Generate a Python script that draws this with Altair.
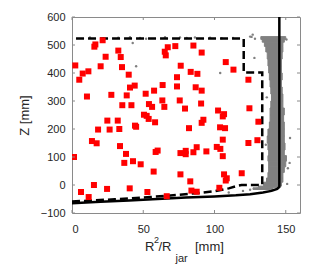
import altair as alt
import pandas as pd

# Red squares (R^2/R_jar, Z)
red_x = [1.4, 2.3, 5.1, 7.5, 6.3, 11.5, 10.5, 11.7, 15.7, 16.4, 21.5, 20.1, 23.6, 15.4, 14.0, 17.3,
         18.3, 24.6, 24.8, 26.4, 27.6, 32.5, 34.2, 35.1, 32.1, 33.2, 35.3, 33.7, 37.9, 36.7, 39.8, 40.7,
         38.4, 41.7, 44.0, 44.2, 45.0, 40.5, 42.8, 48.2, 51.7, 50.5, 52.4, 53.8, 54.0, 56.2, 57.6, 58.3,
         52.9, 57.3, 58.7, 60.1, 63.6, 63.4, 64.8, 65.1, 65.8, 67.2, 72.5, 73.7, 73.7, 76.3, 75.6, 79.3,
         76.1, 79.8, 79.8, 76.1, 66.5, 83.0, 82.1, 83.3, 85.2, 88.0, 86.8, 91.0, 91.0, 90.6, 87.5, 85.2,
         83.8, 87.5, 94.3, 92.2, 91.0, 102.5, 105.8, 106.7, 103.9, 107.4, 105.8, 101.6, 104.1, 105.8, 106.7, 108.6,
         107.9, 103.4, 107.9, 113.3, 119.1, 123.8, 124.5, 123.8, 130.8, 130.1]
red_y = [100, 427, 376, 398, -25, 406, 316, -43, 494, 502, 517, 424, 458, 0, 157, 149,
         198, -14, 230, 198, 322, 480, 457, 421, 230, 200, 285, 139, 111, 79, 394, 348,
         320, 285, 355, 212, 208, -12, 85, 74, 326, 251, 247, 236, 289, 279, 337, 224,
         -25, 48, 118, 123, 357, 302, 279, 476, 463, 492, 496, 385, 352, 426, 302, 273,
         114, 122, 110, 38, -40, 13, 203, 404, 498, 397, 349, 337, 473, 291, 135, 117,
         -20, -24, 120, 233, 222, 266, 245, 253, 206, 203, 162, 136, 129, 103, 38, 24,
         16, -10, 439, 412, 42, 376, 274, 150, 226, 160]

# Dense grey cloud near the wall: bands (Z from, Z to, left edge, right edge)
cloud_y1 = [-16, -10, -4, 10, 25, 45, 65, 85, 105, 125, 150, 175, 200, 225, 250, 275, 300,
            325, 350, 375, 400, 425, 450, 475, 495, 510, 520]
cloud_y2 = [-10, -4, 10, 25, 45, 65, 85, 105, 125, 150, 175, 200, 225, 250, 275, 300, 325,
            350, 375, 400, 425, 450, 475, 495, 510, 520, 530]
cloud_l = [127, 131, 134.5, 136.5, 137.5, 138, 138, 137.5, 138, 137.5, 137, 137.5, 138.5, 139, 139, 139.5, 140,
           139.5, 139, 138.5, 138, 137.5, 137, 136, 135, 133.5, 132.5]
cloud_r = [141, 145, 147, 148, 148, 149, 150, 150.5, 149, 149.5, 149, 149, 149, 148.5, 149, 148, 148,
           147.5, 147, 147.5, 147, 147, 147.5, 148, 148, 149, 150]

# Sparse grey points
grey_x = [12.6, 22, 32.5, 40.7, 47.7, 52, 65.3, 75.8, 80.5, 86.3, 96.9, 105, 113, 126, 128.4,
          42.6, 45, 104, 128, 136.7, 136, 153, 152.7, 151, 125, 126.8, 110, 120, 125, 130, 150.5, 151.5]
grey_y = [527, 524, 526, 528, 525, 522, 528, 527, 525, 527, 526, 524, 525, 529, 522,
          507, 424, 400, 454, 313, 144, 168, 79, 4, 530, 537, -27, -21, -17, -13, 520, 60]

# Solid wall/bottom line
solid_x = [0, 20, 40, 60, 80, 100, 115, 125, 134, 140, 144, 145.5, 145.5]
solid_y = [-65, -60, -55, -50, -45, -41, -37, -33, -27, -21, -14, -7, 600]

# Dashed outline
dash_x = [0, 30, 55, 75, 90, 100, 110, 116, 119, 133.5, 133.5, 120.5, 120.5, 0]
dash_y = [-59, -51, -43, -35, -28, -22, -12, -3, 0, 0, 402, 402, 523, 523]

x_ticks = [0, 50, 100, 150]
y_ticks = [-100, 0, 100, 200, 300, 400, 500, 600]

FONT = "Liberation Sans"
FRAME = "#8a8a8a"

xs = alt.Scale(domain=[0, 160], nice=False, zero=False)
ys = alt.Scale(domain=[-100, 600], nice=False, zero=False)

xaxis = alt.Axis(values=x_ticks, labelPadding=10, title=None)
yaxis = alt.Axis(values=y_ticks, labelPadding=7, title="Z [mm]", titlePadding=9)

cloud = alt.Chart(pd.DataFrame({"y1": cloud_y1, "y2": cloud_y2, "l": cloud_l, "r": cloud_r})).mark_rect(
    color="#808080", stroke="#808080", strokeWidth=1, opacity=1, clip=True).encode(
    y=alt.Y("y1:Q", scale=ys, axis=yaxis),
    y2="y2:Q",
    x=alt.X("l:Q", scale=xs, axis=xaxis),
    x2="r:Q")

grey = alt.Chart(pd.DataFrame({"x": grey_x, "y": grey_y})).mark_circle(
    size=6, color="#808080", opacity=1, clip=True).encode(
    x=alt.X("x:Q", scale=xs, axis=xaxis), y=alt.Y("y:Q", scale=ys, axis=yaxis))

dashed = alt.Chart(pd.DataFrame({"x": dash_x, "y": dash_y, "i": list(range(len(dash_x)))})).mark_line(
    color="black", strokeWidth=2.5, strokeDash=[8, 4], clip=True).encode(
    x=alt.X("x:Q", scale=xs, axis=xaxis), y=alt.Y("y:Q", scale=ys, axis=yaxis), order="i:Q")

solid = alt.Chart(pd.DataFrame({"x": solid_x, "y": solid_y, "i": list(range(len(solid_x)))})).mark_line(
    color="black", strokeWidth=2.5, clip=True).encode(
    x=alt.X("x:Q", scale=xs, axis=xaxis), y=alt.Y("y:Q", scale=ys, axis=yaxis), order="i:Q")

red = alt.Chart(pd.DataFrame({"x": red_x, "y": red_y})).mark_square(
    size=36, color="#ff0000", opacity=1, clip=True).encode(
    x=alt.X("x:Q", scale=xs, axis=xaxis), y=alt.Y("y:Q", scale=ys, axis=yaxis))

H = 196
W = 228
tdf_x = pd.DataFrame({"t": x_ticks})
tdf_y = pd.DataFrame({"t": y_ticks})
tick_b = alt.Chart(tdf_x).mark_rule(color=FRAME, strokeWidth=1).encode(
    x=alt.X("t:Q", scale=xs, axis=xaxis), y=alt.value(H), y2=alt.value(H - 3))
tick_t = alt.Chart(tdf_x).mark_rule(color=FRAME, strokeWidth=1).encode(
    x=alt.X("t:Q", scale=xs, axis=xaxis), y=alt.value(0), y2=alt.value(3))
tick_l = alt.Chart(tdf_y).mark_rule(color=FRAME, strokeWidth=1).encode(
    y=alt.Y("t:Q", scale=ys, axis=yaxis), x=alt.value(0), x2=alt.value(3))
tick_r = alt.Chart(tdf_y).mark_rule(color=FRAME, strokeWidth=1).encode(
    y=alt.Y("t:Q", scale=ys, axis=yaxis), x=alt.value(W), x2=alt.value(W - 3))

def txt(s, x, y, size):
    return alt.Chart(alt.Data(values=[{"a": 1}])).mark_text(
        text=s, font=FONT, fontSize=size, color="#262626", align="left", baseline="alphabetic").encode(
        x=alt.value(x), y=alt.value(y))

title_parts = [
    txt("R", 73, 234, 13),
    txt("2", 82, 226, 9),
    txt("/R", 86.5, 234, 13),
    txt("jar", 103.5, 245, 11),
    txt("[mm]", 123, 234, 13),
]

chart = alt.layer(cloud, grey, dashed, solid, red, tick_b, tick_t, tick_l, tick_r, *title_parts).properties(
    width=W, height=H,
    background="white",
    autosize=alt.AutoSizeParams(type="none"),
    padding={"left": 64, "top": 9, "right": 20, "bottom": 56},
).configure_view(stroke=FRAME, strokeWidth=1).configure_axis(
    grid=False, domain=False, ticks=False, tickSize=0, labelOverlap=False,
    labelFontSize=11, labelFont=FONT, labelColor="#262626",
    titleFontSize=13, titleFont=FONT, titleFontWeight="normal", titleColor="#262626",
)

chart.save("out.html", embed_options={"renderer": "svg", "actions": False})
